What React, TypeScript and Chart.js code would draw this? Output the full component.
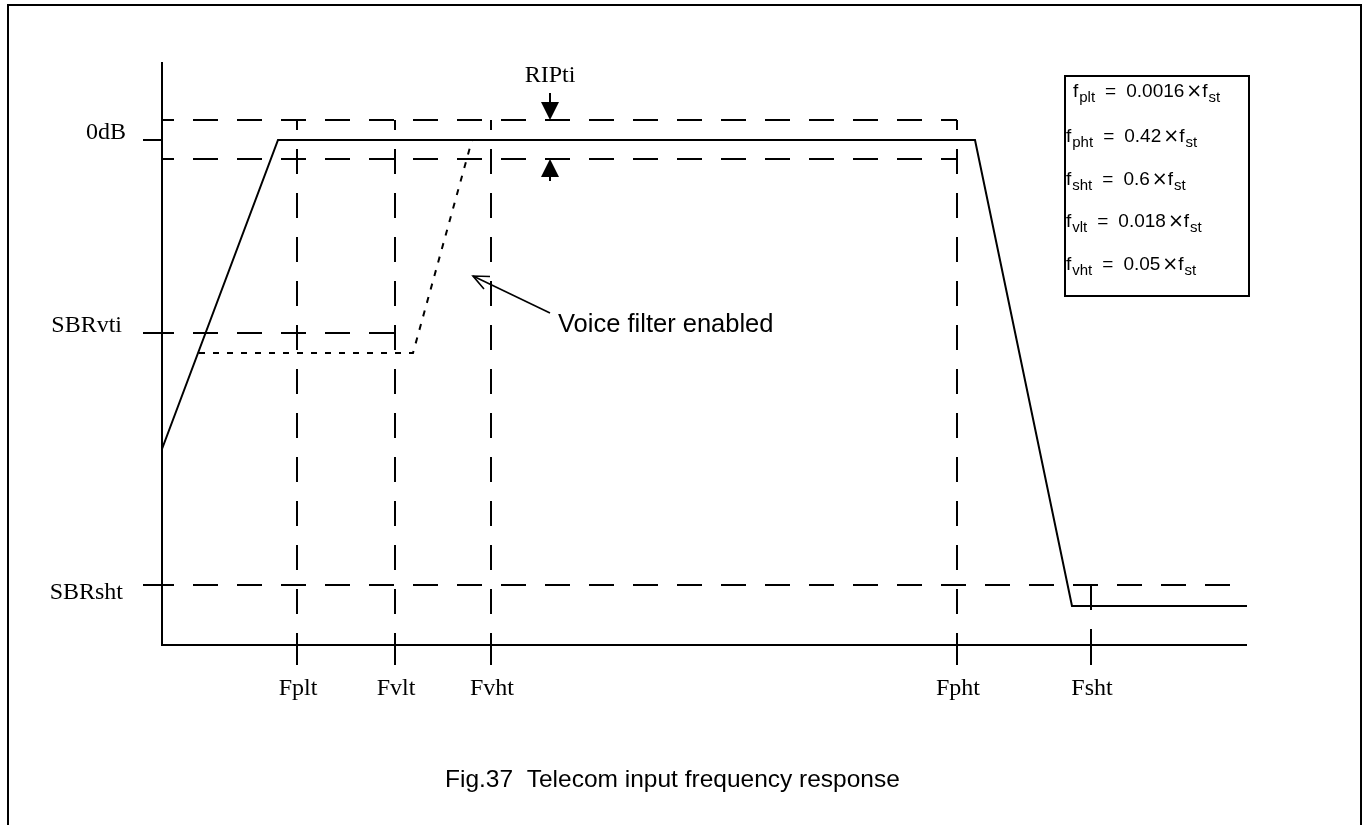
import React, { useEffect, useRef } from "react";
import { Chart, registerables } from "chart.js";
Chart.register(...registerables);

// ---- Data (relative frequency units on x, relative dB on y) ----
const freqLabels = ["Fplt", "Fvlt", "Fvht", "Fpht", "Fsht"];
const freqValues = [13.5, 23.3, 32.9, 79.5, 92.9];

const levelLabels = ["0dB", "SBRvti", "SBRsht"];
const levelValues = [0, -19.3, -44.5];

const rippleTop = 2.0;
const rippleBottom = -1.9;
const rippleMarkX = 38.8;

const responseX = [0, 11.6, 81.3, 91.0, 108.5];
const responseY = [-30.9, 0, 0, -46.6, -46.6];

const voiceX = [3.7, 25.1, 31.0];
const voiceY = [-21.3, -21.3, 0];

const xMin = 0;
const xMax = 108.5;
const yMin = -50.5;
const yMax = 7.8;

const annotationTail = [38.8, -17.3];
const annotationTip = [31.1, -13.6];
const annotationText = "Voice filter enabled";

const legendSubs = ["plt", "pht", "sht", "vlt", "vht"];
const legendCoefs = ["0.0016", "0.42", "0.6", "0.018", "0.05"];

const caption = "Fig.37  Telecom input frequency response";

const SERIF = "'Liberation Serif', 'Times New Roman', serif";
const SANS = "'Liberation Sans', Arial, sans-serif";

function pts(xs: number[], ys: number[]) {
  return xs.map((x, i) => ({ x, y: ys[i] }));
}

const DASH = [25, 19];

function dashed(data: { x: number; y: number }[], offset = 0) {
  return {
    data,
    showLine: true,
    borderColor: "#000",
    borderWidth: 2,
    borderDash: DASH,
    borderDashOffset: offset,
    pointRadius: 0,
    fill: false,
    clip: false as any,
  };
}

export default function App() {
  const ref = useRef<HTMLCanvasElement | null>(null);

  useEffect(() => {
    if (!ref.current) return;
    const fvlt = freqValues[1];
    const fpht = freqValues[3];
    const fsht = freqValues[4];

    const datasets: any[] = [
      dashed([{ x: xMin, y: rippleTop }, { x: fpht, y: rippleTop }], 13),
      dashed([{ x: xMin, y: rippleBottom }, { x: fpht, y: rippleBottom }], 13),
      dashed([{ x: xMin, y: levelValues[1] }, { x: fvlt, y: levelValues[1] }], 13),
      dashed([{ x: xMin, y: levelValues[2] }, { x: xMax, y: levelValues[2] }], 13),
      ...freqValues.slice(0, 4).map((f) =>
        dashed([{ x: f, y: rippleTop }, { x: f, y: yMin }], 15)
      ),
      dashed([{ x: fsht, y: levelValues[2] }, { x: fsht, y: yMin }], 0),
      {
        data: pts(voiceX, voiceY),
        showLine: true,
        borderColor: "#000",
        borderWidth: 2,
        borderDash: [6, 8],
        pointRadius: 0,
        fill: false,
      },
      {
        data: pts(responseX, responseY),
        showLine: true,
        borderColor: "#000",
        borderWidth: 2,
        pointRadius: 0,
        fill: false,
        clip: false,
      },
    ];

    const decor = {
      id: "decor",
      afterDraw(chart: any) {
        const ctx: CanvasRenderingContext2D = chart.ctx;
        const xs = chart.scales.x;
        const ys = chart.scales.y;
        const ca = chart.chartArea;
        const px = (v: number) => xs.getPixelForValue(v);
        const py = (v: number) => ys.getPixelForValue(v);
        ctx.save();
        ctx.strokeStyle = "#000";
        ctx.fillStyle = "#000";
        ctx.lineWidth = 2;
        ctx.setLineDash([]);

        // Frame
        ctx.strokeRect(8, 5, 1353, 840);

        // Axes
        ctx.beginPath();
        ctx.moveTo(ca.left, ca.top);
        ctx.lineTo(ca.left, ca.bottom);
        ctx.lineTo(ca.right, ca.bottom);
        ctx.stroke();

        // Y ticks + labels
        const yLabelOffsets = [-1, -1, 14];
        const yLabelRight = [126, 122, 123];
        ctx.font = `24px ${SERIF}`;
        ctx.textAlign = "right";
        ctx.textBaseline = "alphabetic";
        levelValues.forEach((v, i) => {
          const y = py(v);
          ctx.beginPath();
          ctx.moveTo(ca.left - 19, y);
          ctx.lineTo(ca.left, y);
          ctx.stroke();
          ctx.fillText(levelLabels[i], yLabelRight[i], y + yLabelOffsets[i]);
        });

        // X ticks + labels
        ctx.textAlign = "center";
        freqValues.forEach((f, i) => {
          const x = px(f);
          ctx.beginPath();
          ctx.moveTo(x, ca.bottom);
          ctx.lineTo(x, ca.bottom + 20);
          ctx.stroke();
          ctx.fillText(freqLabels[i], x + 1, ca.bottom + 50);
        });

        // Ripple markers
        const rx = px(rippleMarkX);
        const yt = py(rippleTop);
        const yb = py(rippleBottom);
        ctx.beginPath();
        ctx.moveTo(rx, yt - 27);
        ctx.lineTo(rx, yt - 16);
        ctx.stroke();
        ctx.beginPath();
        ctx.moveTo(rx - 9, yt - 18);
        ctx.lineTo(rx + 9, yt - 18);
        ctx.lineTo(rx, yt);
        ctx.closePath();
        ctx.fill();
        ctx.beginPath();
        ctx.moveTo(rx, yb + 16);
        ctx.lineTo(rx, yb + 22);
        ctx.stroke();
        ctx.beginPath();
        ctx.moveTo(rx - 9, yb + 18);
        ctx.lineTo(rx + 9, yb + 18);
        ctx.lineTo(rx, yb);
        ctx.closePath();
        ctx.fill();
        ctx.font = `24px ${SERIF}`;
        ctx.textAlign = "center";
        ctx.fillText("RIPti", rx, yt - 38);

        // Annotation arrow
        const tx = px(annotationTail[0]);
        const ty = py(annotationTail[1]);
        const hx = px(annotationTip[0]);
        const hy = py(annotationTip[1]);
        ctx.lineWidth = 1.6;
        ctx.beginPath();
        ctx.moveTo(tx, ty);
        ctx.lineTo(hx, hy);
        ctx.stroke();
        const ang = Math.atan2(ty - hy, tx - hx);
        const hl = 17;
        ctx.beginPath();
        ctx.moveTo(hx + hl * Math.cos(ang - 0.42), hy + hl * Math.sin(ang - 0.42));
        ctx.lineTo(hx, hy);
        ctx.lineTo(hx + hl * Math.cos(ang + 0.42), hy + hl * Math.sin(ang + 0.42));
        ctx.stroke();
        ctx.font = `25.5px ${SANS}`;
        ctx.textAlign = "left";
        ctx.fillText(annotationText, tx + 8, ty + 19);

        // Legend box
        ctx.lineWidth = 2;
        ctx.strokeRect(1065, 76, 184, 220);
        const baselines = [97, 142, 185, 227, 270];
        legendSubs.forEach((sub, i) => {
          let x = i === 0 ? 1073 : 1066;
          const b = baselines[i];
          ctx.textAlign = "left";
          ctx.font = `19px ${SANS}`;
          ctx.fillText("f", x, b);
          x += ctx.measureText("f").width + 1;
          ctx.font = `15px ${SANS}`;
          ctx.fillText(sub, x, b + 5);
          x += ctx.measureText(sub).width + 10;
          ctx.font = `19px ${SANS}`;
          ctx.fillText("=", x, b);
          x += ctx.measureText("=").width + 10;
          ctx.fillText(legendCoefs[i], x, b);
          x += ctx.measureText(legendCoefs[i]).width + 2;
          ctx.font = `19px 'DejaVu Sans', sans-serif`;
          ctx.fillText("\u00d7", x, b);
          x += ctx.measureText("\u00d7").width;
          ctx.font = `19px ${SANS}`;
          ctx.fillText("f", x, b);
          x += ctx.measureText("f").width + 1;
          ctx.font = `15px ${SANS}`;
          ctx.fillText("st", x, b + 5);
        });

        // Caption
        ctx.font = `24.5px ${SANS}`;
        ctx.textAlign = "left";
        ctx.fillText(caption, 445, 787);

        ctx.restore();
      },
    };

    const chart = new Chart(ref.current, {
      type: "scatter",
      data: { datasets },
      options: {
        animation: false,
        responsive: false,
        devicePixelRatio: 1,
        layout: { padding: { left: 162, top: 62, right: 117, bottom: 180 } },
        plugins: { legend: { display: false }, tooltip: { enabled: false } },
        scales: {
          x: { type: "linear", min: xMin, max: xMax, display: false },
          y: { type: "linear", min: yMin, max: yMax, display: false },
        },
      },
      plugins: [decor],
    });
    return () => chart.destroy();
  }, []);

  return (
    <div
      style={{
        position: "fixed",
        left: 0,
        top: 0,
        width: 1364,
        height: 825,
        background: "#fff",
      }}
    >
      <canvas ref={ref} width={1364} height={825} style={{ display: "block" }} />
    </div>
  );
}
